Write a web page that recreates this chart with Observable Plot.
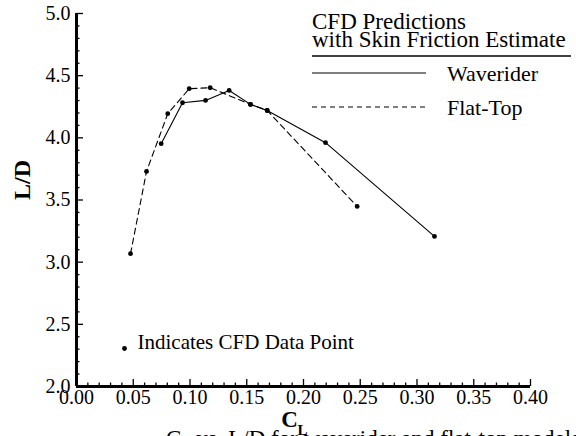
<!DOCTYPE html>
<html>
<head>
<meta charset="utf-8">
<script src="https://cdn.jsdelivr.net/npm/d3@7"></script>
<script src="https://cdn.jsdelivr.net/npm/@observablehq/plot@0.6"></script>
<style>
  html, body { margin: 0; padding: 0; background: white; }
  #wrap { position: relative; width: 576px; height: 436px; overflow: hidden; font-family: "Liberation Serif", "Times New Roman", "DejaVu Serif", serif; color: black; }
  #wrap svg text { font-family: "Liberation Serif", "Times New Roman", "DejaVu Serif", serif; }
  #legend { position: absolute; left: 0; top: 0; }
  #caption { position: absolute; left: 166px; top: 427px; font-size: 23px; white-space: nowrap; line-height: 1; }
  #caption sub { font-size: 15px; }
</style>
</head>
<body>
<div id="wrap">
  <div id="chart"></div>
  <svg id="legend" width="576" height="140"></svg>
  <div id="caption">C<sub>L</sub> vs. L/D for waverider and flat-top models</div>
</div>
<script>
// ---- data ----
const waveriderCL = [0.0746, 0.0934, 0.1137, 0.1345, 0.1533, 0.168, 0.2194, 0.3154];
const waveriderLD = [3.953, 4.282, 4.301, 4.381, 4.269, 4.220, 3.961, 3.207];
const flatTopCL = [0.0476, 0.0617, 0.0804, 0.0993, 0.1178, 0.1533, 0.168, 0.2473];
const flatTopLD = [3.068, 3.730, 4.194, 4.395, 4.403, 4.269, 4.220, 3.448];

const xMajorTicks = [0, 0.05, 0.10, 0.15, 0.20, 0.25, 0.30, 0.35, 0.40];
const xMinorTicks = d3.range(0, 41).map(i => i / 100).filter(v => Math.round(v * 100) % 5 !== 0);
const yMajorTicks = [2.0, 2.5, 3.0, 3.5, 4.0, 4.5, 5.0];
const yMinorTicks = d3.range(20, 51).map(i => i / 10).filter(v => Math.round(v * 10) % 5 !== 0);

const legendTitle = ["CFD Predictions", "with Skin Friction Estimate"];
const seriesNames = ["Waverider", "Flat-Top"];
const noteText = "Indicates CFD Data Point";
const xLabel = "C";
const xLabelSub = "L";
const yLabel = "L/D";

const waverider = waveriderCL.map((c, i) => ({cl: c, ld: waveriderLD[i]}));
const flatTop = flatTopCL.map((c, i) => ({cl: c, ld: flatTopLD[i]}));

const serif = "'Liberation Serif', 'Times New Roman', 'DejaVu Serif', serif";

const chart = Plot.plot({
  width: 576,
  height: 436,
  marginLeft: 76,
  marginRight: 46,
  marginTop: 13,
  marginBottom: 50,
  style: {fontFamily: serif, fontSize: "20px", background: "white", color: "black"},
  x: {domain: [0, 0.4]},
  y: {domain: [2, 5]},
  marks: [
    // tick marks pointing inward
    Plot.axisX(xMinorTicks, {tickSize: -3.5, strokeWidth: 1.3, fill: "none", label: null}),
    Plot.axisX(xMajorTicks, {tickSize: -7, strokeWidth: 1.3, fill: "none", label: null}),
    Plot.axisY(yMinorTicks, {tickSize: -3.5, strokeWidth: 1.3, fill: "none", label: null}),
    Plot.axisY(yMajorTicks, {tickSize: -7, strokeWidth: 1.3, fill: "none", label: null}),
    // tick labels
    Plot.axisX(xMajorTicks, {tickSize: 0, tickPadding: 3, tickFormat: d3.format(".2f"), label: null, fontSize: 20}),
    Plot.axisY(yMajorTicks, {tickSize: 0, tickPadding: 6, tickFormat: d3.format(".1f"), label: null, fontSize: 20}),
    // axis lines
    Plot.ruleX([0], {stroke: "black", strokeWidth: 3}),
    Plot.ruleY([2], {stroke: "black", strokeWidth: 3}),
    // series
    Plot.line(flatTop, {x: "cl", y: "ld", stroke: "black", strokeWidth: 1.1, strokeDasharray: "6,4"}),
    Plot.line(waverider, {x: "cl", y: "ld", stroke: "black", strokeWidth: 1.1}),
    Plot.dot(flatTop, {x: "cl", y: "ld", r: 2.4, fill: "black"}),
    Plot.dot(waverider, {x: "cl", y: "ld", r: 2.4, fill: "black"}),
    // note
    Plot.dot([noteText], {frameAnchor: "bottom-left", dx: 48, dy: -38, r: 2.4, fill: "black"}),
    Plot.text([noteText], {frameAnchor: "bottom-left", dx: 61, dy: -38, textAnchor: "start", fontSize: 21, fill: "black"}),
    // axis titles
    Plot.text([yLabel], {frameAnchor: "left", dx: -54, dy: 0, rotate: -90, fontSize: 24, fontWeight: "bold", fill: "black"}),
    Plot.text([xLabel], {frameAnchor: "bottom", dx: -14, dy: 40, fontSize: 23, fontWeight: "bold", fill: "black"}),
    Plot.text([xLabelSub], {frameAnchor: "bottom", dx: -1, dy: 48, fontSize: 15, fontWeight: "bold", fill: "black"})
  ]
});
document.getElementById("chart").appendChild(chart);

// ---- legend overlay ----
const lg = d3.select("#legend").style("font-family", serif);
lg.selectAll("text.title").data(legendTitle).join("text")
  .attr("class", "title")
  .attr("x", 312).attr("y", (d, i) => 29 + i * 18)
  .attr("font-size", 23).attr("fill", "black").text(d => d);
lg.append("line").attr("x1", 312).attr("x2", 571).attr("y1", 56).attr("y2", 56)
  .attr("stroke", "black").attr("stroke-width", 1.3);
const dashes = [null, "5,4"];
seriesNames.forEach((name, i) => {
  const y = 73 + i * 34;
  lg.append("line").attr("x1", 312).attr("x2", 426).attr("y1", y).attr("y2", y)
    .attr("stroke", "black").attr("stroke-width", 1.1)
    .attr("stroke-dasharray", dashes[i]);
  lg.append("text").attr("x", 447).attr("y", y + 7.5)
    .attr("font-size", 22).attr("fill", "black").text(name);
});
</script>
</body>
</html>
